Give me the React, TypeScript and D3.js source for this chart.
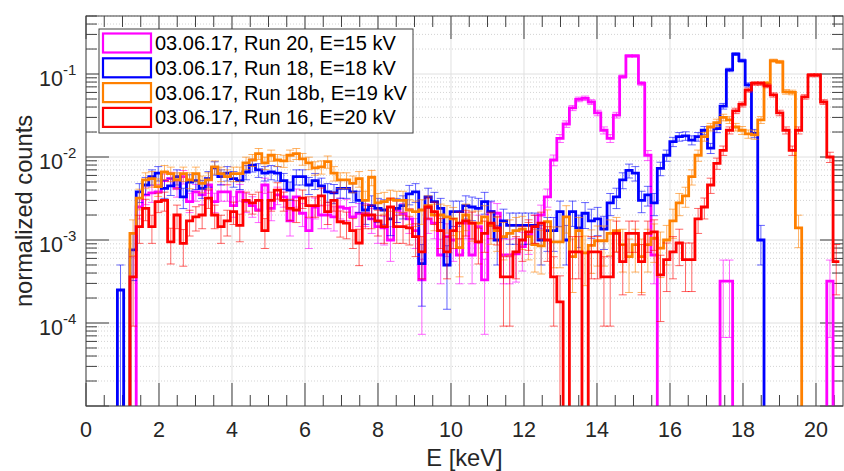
import React from 'react';
import * as d3 from 'd3';

// Histogram bin width in keV; bin k spans [k*BIN_WIDTH, (k+1)*BIN_WIDTH]
const BIN_WIDTH = 0.172;

const seriesLabels = [
  '03.06.17, Run 20, E=15 kV',
  '03.06.17, Run 18, E=18 kV',
  '03.06.17, Run 18b, E=19 kV',
  '03.06.17, Run 16, E=20 kV',
];
const seriesColors = ['#ff00ff', '#0000ff', '#ff8000', '#ff0000'];
// total counts used for the Poisson error bars (sigma = sqrt(v / total))
const seriesTotals = [5000, 4000, 4000, 5000];

const run20 = [
  0, 0, 0, 0, 0, 0, 0, 0, 2.5e-3, 3.5e-3,
  3.7e-3, 3.8e-3, 5.2e-3, 5.5e-3, 4.2e-3, 5.8e-3, 2.9e-3, 3.8e-3, 3.5e-3, 4.6e-3,
  2.9e-3, 3.8e-3, 3.8e-3, 2.6e-3, 3.8e-3, 2.9e-3, 2.6e-3, 2.3e-3, 4.6e-3, 2.4e-3,
  3.5e-3, 3.3e-3, 1.7e-3, 3.3e-3, 2.1e-3, 1.3e-3, 2.5e-3, 2.0e-3, 2.0e-3, 1.9e-3,
  2.5e-3, 2.4e-3, 1.9e-3, 2.1e-3, 2.1e-3, 1.8e-3, 1.45e-3, 1.4e-3, 1.0e-3, 2.3e-3,
  2.1e-3, 1.8e-3, 1.3e-3, 3.3e-4, 1.8e-3, 1.6e-3, 6.6e-4, 1.1e-3, 1.0e-3, 6.6e-4,
  1.6e-3, 6.6e-4, 1.45e-3, 3.3e-4, 2.2e-3, 2.1e-3, 6.6e-4, 6.6e-4, 6.8e-4, 8.3e-4,
  1.15e-3, 1.45e-3, 2.0e-3, 3.3e-3, 9.2e-3, 1.68e-2, 2.5e-2, 3.9e-2, 4.95e-2, 5.1e-2,
  4.6e-2, 3.4e-2, 2.1e-2, 1.68e-2, 3.2e-2, 9.3e-2, 0.165, 0.165, 7.7e-2, 1.05e-2,
  6.6e-4, 0, 0, 0, 0, 0, 0, 0, 0, 0,
  0, 3.2e-4, 3.2e-4, 0, 0, 0, 0, 0, 0, 0,
  0, 0, 0, 0, 0, 0, 0, 0, 3.2e-4, 0,
];

const run18 = [
  0, 0, 0, 0, 0, 2.5e-4, 0, 7.6e-4, 3.8e-3, 4.6e-3,
  5.8e-3, 6.4e-3, 4.2e-3, 4.5e-3, 5.8e-3, 3.3e-3, 5.0e-3, 5.2e-3, 4.2e-3, 5.5e-3,
  7.4e-3, 5.8e-3, 6.4e-3, 5.5e-3, 5.2e-3, 6.6e-3, 8.0e-3, 7.0e-3, 6.4e-3, 6.6e-3,
  6.4e-3, 5.2e-3, 4.0e-3, 5.8e-3, 5.8e-3, 4.6e-3, 5.2e-3, 4.5e-3, 3.8e-3, 3.7e-3,
  4.2e-3, 4.2e-3, 3.8e-3, 3.0e-3, 2.3e-3, 2.6e-3, 2.4e-3, 2.3e-3, 1.8e-3, 2.4e-3,
  2.6e-3, 3.6e-3, 3.8e-3, 5.2e-4, 3.3e-3, 2.9e-3, 2.4e-3, 5.0e-4, 2.2e-3, 2.2e-3,
  2.6e-3, 2.5e-3, 2.4e-3, 2.9e-3, 2.2e-3, 1.0e-3, 1.7e-3, 1.5e-3, 1.5e-3, 1.5e-3,
  1.5e-3, 1.5e-3, 1.0e-3, 1.3e-3, 1.3e-3, 2.2e-3, 1.0e-3, 2.2e-3, 1.4e-3, 2.1e-3,
  1.7e-3, 1.8e-3, 1.35e-3, 2.8e-3, 3.3e-3, 5.3e-3, 6.9e-3, 6.4e-3, 3.0e-3, 3.5e-3,
  2.8e-3, 7.3e-3, 1.05e-2, 1.53e-2, 1.76e-2, 1.8e-2, 1.6e-2, 1.76e-2, 2.1e-2, 1.28e-2,
  2.2e-2, 4.1e-2, 0.112, 0.174, 0.145, 7.4e-2, 1.93e-2, 1.0e-3, 0, 0,
  0, 0, 0, 0, 0, 0, 0, 0, 0, 0,
];

const run18b = [
  0, 0, 0, 0, 0, 0, 0, 1.2e-3, 3.2e-3, 5.3e-3,
  5.5e-3, 4.4e-3, 6.6e-3, 6.3e-3, 5.3e-3, 6.3e-3, 5.3e-3, 6.3e-3, 4.8e-3, 5.3e-3,
  7.6e-3, 6.3e-3, 5.8e-3, 6.3e-3, 6.3e-3, 8.5e-3, 9.2e-3, 1.1e-2, 8.5e-3, 1.05e-2,
  9.2e-3, 9.0e-3, 1.05e-2, 1.1e-2, 9.5e-3, 8.5e-3, 7.4e-3, 7.6e-3, 8.8e-3, 6.4e-3,
  5.3e-3, 5.3e-3, 4.8e-3, 5.5e-3, 3.0e-3, 5.7e-3, 2.8e-3, 2.9e-3, 3.1e-3, 3.0e-3,
  3.0e-3, 2.3e-3, 2.2e-3, 2.3e-3, 2.6e-3, 2.0e-3, 2.0e-3, 1.9e-3, 1.8e-3, 8.1e-4,
  2.0e-3, 1.6e-3, 1.6e-3, 1.9e-3, 1.5e-3, 1.3e-3, 1.1e-3, 1.2e-3, 1.3e-3, 1.35e-3,
  1.1e-3, 8.8e-4, 8.5e-4, 1.66e-3, 9.5e-4, 9.5e-4, 1.9e-3, 6.3e-4, 1.3e-3, 7.0e-4,
  8.6e-4, 9.8e-4, 9.8e-4, 1.2e-3, 1.3e-3, 8.8e-4, 6.3e-4, 8.8e-4, 6.3e-4, 8.8e-4,
  1.05e-3, 8.0e-4, 1.0e-3, 1.7e-3, 2.8e-3, 3.4e-3, 5.8e-3, 1.05e-2, 1.76e-2, 2.3e-2,
  2.6e-2, 3.0e-2, 2.8e-2, 2.3e-2, 2.1e-2, 1.9e-2, 1.85e-2, 2.8e-2, 7.7e-2, 0.145,
  0.14, 6.1e-2, 6.0e-2, 1.4e-3, 0, 0, 0, 0, 0, 0,
];

const run16 = [
  0, 0, 0, 0, 0, 0, 0, 3.6e-4, 1.45e-3, 2.4e-3,
  1.45e-3, 2.9e-3, 3.0e-3, 9.5e-4, 2.0e-3, 9.1e-4, 1.7e-3, 1.9e-3, 2.0e-3, 3.2e-3,
  2.0e-3, 1.45e-3, 1.7e-3, 2.2e-3, 1.5e-3, 3.0e-3, 2.8e-3, 3.0e-3, 1.3e-3, 3.0e-3,
  4.0e-3, 3.0e-3, 2.4e-3, 2.3e-3, 3.2e-3, 2.6e-3, 2.6e-3, 3.4e-3, 2.2e-3, 3.0e-3,
  1.66e-3, 1.6e-3, 1.3e-3, 9.2e-4, 2.0e-3, 2.0e-3, 1.7e-3, 1.45e-3, 2.5e-3, 1.45e-3,
  1.45e-3, 1.4e-3, 1.1e-3, 7.2e-4, 2.5e-3, 2.2e-3, 1.3e-3, 7.2e-4, 1.3e-3, 1.6e-3,
  1.7e-3, 1.6e-3, 9.5e-4, 1.2e-3, 1.6e-3, 1.4e-3, 3.6e-4, 3.6e-4, 7.2e-4, 1.0e-3,
  1.25e-3, 1.45e-3, 1.6e-3, 1.0e-3, 3.6e-4, 1.8e-4, 0, 7.2e-4, 7.2e-4, 0,
  7.2e-4, 7.2e-4, 3.6e-4, 3.6e-4, 1.2e-3, 5.5e-4, 1.2e-3, 1.2e-3, 5.5e-4, 1.2e-3,
  1.25e-3, 3.8e-4, 5.8e-4, 7.2e-4, 9.2e-4, 5.8e-4, 5.8e-4, 1.8e-3, 2.5e-3, 4.6e-3,
  8.4e-3, 1.2e-2, 2.1e-2, 3.6e-2, 4.3e-2, 6.4e-2, 7.7e-2, 7.7e-2, 7.2e-2, 5.6e-2,
  3.4e-2, 2.1e-2, 1.2e-2, 2.1e-2, 5.3e-2, 9.7e-2, 9.7e-2, 4.6e-2, 1.0e-2, 5.5e-4,
];

const xTicks = [0, 2, 4, 6, 8, 10, 12, 14, 16, 18, 20];
const yTickExps = [-4, -3, -2, -1];
const xLabel = 'E [keV]';
const yLabel = 'normalized counts';

const FONT = 'Liberation Sans, Arial, Helvetica, sans-serif';

export default function App() {
  const W = 844, H = 471;
  const L = 86, R = 843, T = 16, B = 406;
  const x = d3.scaleLinear().domain([0, 20.74]).range([L, R]);
  const y = d3.scaleLog().domain([1e-5, 0.5]).range([B, T]);
  const allSeries = [run20, run18, run18b, run16];
  const below = B + 30;
  const yv = (v: number) => (v > 0 ? y(v) : below);

  const line = d3
    .line<[number, number]>()
    .x((d) => x(d[0]))
    .y((d) => yv(d[1]))
    .curve(d3.curveStepAfter);

  const stepPath = (vals: number[]) => {
    const pts: [number, number][] = vals.map((v, k) => [k * BIN_WIDTH, v]);
    pts.push([vals.length * BIN_WIDTH, vals[vals.length - 1]]);
    return line(pts) || '';
  };

  const xMinor: number[] = d3.range(0, 20.74, 0.5).filter((v) => Math.abs(v / 2 - Math.round(v / 2)) > 1e-6);
  const yMinor: number[] = [];
  for (let e = -5; e <= -1; e++) for (let m = 2; m <= 9; m++) { const v = m * Math.pow(10, e); if (v <= 0.5) yMinor.push(v); }
  const yMajor = [-5, -4, -3, -2, -1].map((e) => Math.pow(10, e));

  const axisColor = '#404040';
  const majLen = 23, minLen = 11;
  const capW = 4;

  const legendRows = [43, 67.8, 92.6, 117.4];

  return (
    <svg width={W} height={H} style={{ position: 'absolute', left: 0, top: 0, background: '#fff' }} fontFamily={FONT}>
      <defs>
        <clipPath id="plotClip">
          <rect x={L} y={T} width={R - L} height={B - T} />
        </clipPath>
      </defs>
      <rect x={0} y={0} width={W} height={H} fill="#fff" />
      <g>
        {yMinor.map((v, i) => (
          <line key={'ym' + i} x1={L} x2={R} y1={y(v)} y2={y(v)} stroke="#c8c8c8" strokeWidth={0.8} strokeDasharray="1,2" />
        ))}
        {yMajor.map((v, i) => (
          <line key={'yg' + i} x1={L} x2={R} y1={y(v)} y2={y(v)} stroke="#e0e0e0" strokeWidth={1} />
        ))}
        {xTicks.map((v, i) => (
          <line key={'xg' + i} x1={x(v)} x2={x(v)} y1={T} y2={B} stroke="#e0e0e0" strokeWidth={1} />
        ))}
      </g>
      <g stroke={axisColor} strokeWidth={1}>
        {xTicks.map((v, i) => (
          <g key={'xt' + i}>
            <line x1={x(v)} x2={x(v)} y1={B} y2={B - majLen} />
            <line x1={x(v)} x2={x(v)} y1={T} y2={T + majLen} />
          </g>
        ))}
        {xMinor.map((v, i) => (
          <g key={'xmt' + i}>
            <line x1={x(v)} x2={x(v)} y1={B} y2={B - minLen} />
            <line x1={x(v)} x2={x(v)} y1={T} y2={T + minLen} />
          </g>
        ))}
        {yMajor.map((v, i) => (
          <g key={'yt' + i}>
            <line x1={L} x2={L + majLen} y1={y(v)} y2={y(v)} />
            <line x1={R} x2={R - majLen} y1={y(v)} y2={y(v)} />
          </g>
        ))}
        {yMinor.map((v, i) => (
          <g key={'ymt' + i}>
            <line x1={L} x2={L + minLen} y1={y(v)} y2={y(v)} />
            <line x1={R} x2={R - minLen} y1={y(v)} y2={y(v)} />
          </g>
        ))}
      </g>
      <g clipPath="url(#plotClip)">
        {allSeries.map((vals, si) => {
          const color = seriesColors[si];
          const total = seriesTotals[si];
          return (
            <g key={'s' + si}>
              <path d={stepPath(vals)} fill="none" stroke={color} strokeWidth={2.8} strokeLinejoin="miter" />
              <g stroke={color} strokeOpacity={0.6} strokeWidth={1}>
                {vals.map((v, k) => {
                  if (v <= 0) return null;
                  const s = Math.sqrt(v / total);
                  const cx = x((k + 0.5) * BIN_WIDTH);
                  const hi = y(v + s);
                  const loV = v - s;
                  const lo = loV > 1e-5 ? y(loV) : below;
                  return (
                    <g key={k}>
                      <line x1={cx} x2={cx} y1={hi} y2={lo} />
                      <line x1={cx - capW} x2={cx + capW} y1={hi} y2={hi} />
                      {loV > 1e-5 && <line x1={cx - capW} x2={cx + capW} y1={lo} y2={lo} />}
                    </g>
                  );
                })}
              </g>
            </g>
          );
        })}
      </g>
      <rect x={L} y={T} width={R - L} height={B - T} fill="none" stroke={axisColor} strokeWidth={1} />
      <g fill="#262626" fontSize={21.5}>
        {xTicks.map((v, i) => (
          <text key={'xl' + i} x={x(v)} y={437} textAnchor="middle">{String(v)}</text>
        ))}
        {yTickExps.map((e, i) => {
          const yy = y(Math.pow(10, e));
          return (
            <g key={'yl' + i}>
              <text x={63} y={yy + 12} textAnchor="end">10</text>
              <text x={63} y={yy + 1} fontSize={15}>{String(e)}</text>
            </g>
          );
        })}
      </g>
      <text x={(L + R) / 2} y={466} textAnchor="middle" fontSize={23.7} fill="#262626">{xLabel}</text>
      <text transform={`translate(32, ${(T + B) / 2}) rotate(-90)`} textAnchor="middle" fontSize={23.7} fill="#262626">{yLabel}</text>
      <g>
        <rect x={99} y={29} width={314} height={104} fill="#fff" stroke={axisColor} strokeWidth={1} />
        {seriesLabels.map((lab, i) => (
          <g key={'lg' + i}>
            <rect x={103} y={legendRows[i] - 9.5} width={48} height={19} fill="none" stroke={seriesColors[i]} strokeWidth={2.2} />
            <text x={155} y={legendRows[i] + 7} fontSize={20} fill="#000">{lab}</text>
          </g>
        ))}
      </g>
    </svg>
  );
}
